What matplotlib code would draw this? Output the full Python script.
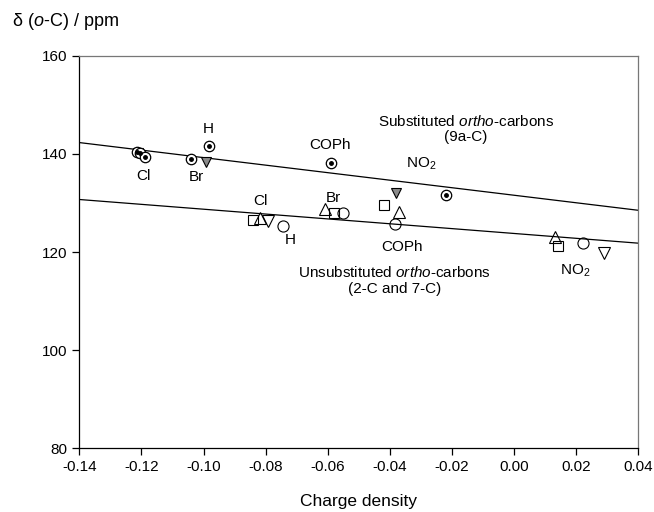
import matplotlib.pyplot as plt

plt.rcParams['font.family'] = ['Liberation Sans', 'DejaVu Sans']
plt.rcParams['mathtext.fontset'] = 'custom'
plt.rcParams['mathtext.rm'] = 'Liberation Sans'
plt.rcParams['mathtext.it'] = 'Liberation Sans:italic'

# substituted ortho-carbons (9a-C), circle with dot
sub_x = [-0.1215, -0.1205, -0.1190, -0.1040, -0.0981, -0.0590, -0.0220]
sub_y = [140.4, 140.1, 139.4, 139.0, 141.6, 138.2, 131.6]
# hatched down-triangles on the substituted line
subtri_x = [-0.1210, -0.0992, -0.0380]
subtri_y = [140.2, 138.4, 132.1]

# unsubstituted ortho-carbons (2-C and 7-C)
sq_x = [-0.0840, -0.0580, -0.0419, 0.0143]
sq_y = [126.5, 127.9, 129.6, 121.2]
tri_x = [-0.0818, -0.0609, -0.0370, 0.0132]
tri_y = [126.9, 128.8, 128.2, 123.1]
tridn_x = [-0.0791, 0.0289]
tridn_y = [126.3, 119.8]
circ_x = [-0.0743, -0.0550, -0.0384, 0.0221]
circ_y = [125.3, 127.9, 125.7, 121.8]

# regression lines
fit_x = [-0.14, 0.04]
sub_fit = [142.3, 128.5]
unsub_fit = [130.7, 121.8]

fig = plt.figure(figsize=(6.54, 5.12), dpi=100)
ax = fig.add_axes([0.1213, 0.1244, 0.8547, 0.7668])

ax.plot(fit_x, sub_fit, color='black', lw=0.9)
ax.plot(fit_x, unsub_fit, color='black', lw=0.9)

ax.plot(subtri_x, subtri_y, 'v', ms=7.5, mfc='#8a8a8a', mec='black', mew=0.8)
ax.plot(sub_x, sub_y, 'o', ms=7.5, mfc='white', mec='black', mew=0.9)
ax.plot(sub_x, sub_y, 'o', ms=2.5, color='black')

ax.plot(sq_x, sq_y, 's', ms=7, mfc='none', mec='black', mew=0.8)
ax.plot(tri_x, tri_y, '^', ms=8, mfc='none', mec='black', mew=0.8)
ax.plot(tridn_x, tridn_y, 'v', ms=8, mfc='none', mec='black', mew=0.8)
ax.plot(circ_x, circ_y, 'o', ms=8, mfc='none', mec='black', mew=0.8)

fs = 11
ax.text(-0.0985, 145.0, 'H', fontsize=fs, ha='center', va='center')
ax.text(-0.1194, 135.5, 'Cl', fontsize=fs, ha='center', va='center')
ax.text(-0.1022, 135.2, 'Br', fontsize=fs, ha='center', va='center')
ax.text(-0.0593, 141.8, 'COPh', fontsize=fs, ha='center', va='center')
ax.text(-0.0298, 137.1, 'NO$_2$', fontsize=fs, ha='center', va='baseline')
ax.text(-0.0155, 145.1, 'Substituted $\\it{ortho}$-carbons\n(9a-C)',
        fontsize=fs, ha='center', va='center', linespacing=1.1)

ax.text(-0.0818, 130.4, 'Cl', fontsize=fs, ha='center', va='center')
ax.text(-0.0722, 122.5, 'H', fontsize=fs, ha='center', va='center')
ax.text(-0.0582, 131.0, 'Br', fontsize=fs, ha='center', va='center')
ax.text(-0.0362, 121.1, 'COPh', fontsize=fs, ha='center', va='center')
ax.text(0.0196, 115.4, 'NO$_2$', fontsize=fs, ha='center', va='baseline')
ax.text(-0.0384, 114.2, 'Unsubstituted $\\it{ortho}$-carbons\n(2-C and 7-C)',
        fontsize=fs, ha='center', va='center', linespacing=1.1)

ax.set_xlim(-0.14, 0.04)
ax.set_ylim(80, 160)
ax.set_xticks([-0.14, -0.12, -0.10, -0.08, -0.06, -0.04, -0.02, 0.00, 0.02, 0.04])
ax.set_xticklabels(['-0.14', '-0.12', '-0.10', '-0.08', '-0.06', '-0.04', '-0.02', '0.00', '0.02', '0.04'])
ax.set_yticks([80, 100, 120, 140, 160])
ax.tick_params(labelsize=11, direction='out', length=5, width=0.9, colors='black')

ax.spines['top'].set_color('#777777')
ax.spines['right'].set_color('#777777')
for s in ax.spines.values():
    s.set_linewidth(0.9)

ax.set_xlabel('Charge density', fontsize=12.5, labelpad=14)
fig.text(0.018, 0.958, 'δ ($\\it{o}$-C) / ppm', fontsize=13, ha='left', va='center')

fig.savefig('out.png', dpi=100)
